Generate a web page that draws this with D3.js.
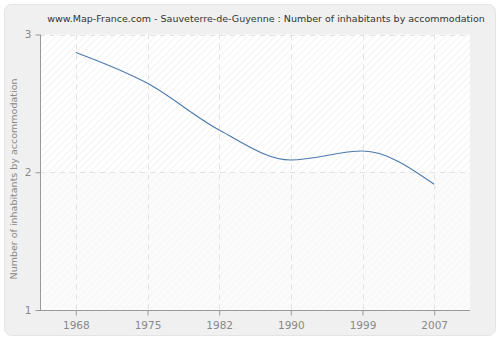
<!DOCTYPE html>
<html lang="en">
  <head>
    <meta charset="UTF-8" />
    <title>Sauveterre-de-Guyenne</title>
    <style>
      body { margin: 0; background: #fff; }
      text { font-family: "DejaVu Sans", Verdana, sans-serif; }
    </style>
  </head>
  <body>
    <svg width="500" height="340"></svg>
    <script src="https://cdn.jsdelivr.net/npm/d3@7/dist/d3.min.js"></script>
    <script>
      var years = ["1968", "1975", "1982", "1990", "1999", "2007"];
      var values = [2.87, 2.646, 2.307, 2.089, 2.154, 1.913];
      var yTicks = [1, 2, 3];

      var svg = d3.select("svg");
      var mLeft = 40, mRight = 470, mTop = 34.5, mBottom = 310;

      // hatch patterns
      var defs = svg.append("defs");
      function hatch(id, bg, line) {
        var p = defs.append("pattern")
          .attr("id", id)
          .attr("width", 5).attr("height", 5)
          .attr("patternUnits", "userSpaceOnUse")
          .attr("patternTransform", "rotate(45)");
        p.append("rect").attr("width", 5).attr("height", 5).attr("fill", bg);
        p.append("line").attr("x1", 0).attr("y1", 0).attr("x2", 0).attr("y2", 5)
          .attr("stroke", line).attr("stroke-width", 1.2);
      }
      hatch("hatchTop", "#ffffff", "#ececec");
      hatch("hatchBottom", "#fbfbfb", "#f3f3f3");

      // outer frame
      svg.append("rect")
        .attr("x", 0).attr("y", 0).attr("width", 500).attr("height", 340)
        .attr("fill", "#ffffff");
      svg.append("rect")
        .attr("x", 4.5).attr("y", 4.5).attr("width", 491).attr("height", 331)
        .attr("rx", 7)
        .attr("fill", "#f0f0f0")
        .attr("stroke", "#e4e4e4");

      var x = d3.scalePoint().domain(years).range([mLeft, mRight]).padding(0.5);
      var y = d3.scaleLinear().domain([1, 3]).range([mBottom, mTop]);

      svg.append("rect")
        .attr("x", mLeft).attr("y", mTop)
        .attr("width", mRight - mLeft).attr("height", y(2) - mTop)
        .attr("fill", "url(#hatchTop)");
      svg.append("rect")
        .attr("x", mLeft).attr("y", y(2))
        .attr("width", mRight - mLeft).attr("height", mBottom - y(2))
        .attr("fill", "url(#hatchBottom)");

      // grid
      svg.append("g").selectAll("line").data(years).enter().append("line")
        .attr("x1", function(d) { return Math.round(x(d)) + 0.5; })
        .attr("x2", function(d) { return Math.round(x(d)) + 0.5; })
        .attr("y1", mTop).attr("y2", mBottom)
        .attr("stroke", "#e2e2e2")
        .attr("stroke-dasharray", "5,5");
      svg.append("g").selectAll("line").data(yTicks.slice(1)).enter().append("line")
        .attr("x1", mLeft).attr("x2", mRight)
        .attr("y1", function(d) { return Math.round(y(d)) + 0.5; })
        .attr("y2", function(d) { return Math.round(y(d)) + 0.5; })
        .attr("stroke", "#e2e2e2")
        .attr("stroke-dasharray", "5,5");

      // axes
      var xAxis = svg.append("g")
        .attr("transform", "translate(0," + (mBottom + 0.5) + ")")
        .call(d3.axisBottom(x).tickSize(5).tickPadding(6));
      var yAxis = svg.append("g")
        .attr("transform", "translate(" + (mLeft + 0.5) + ",0)")
        .call(d3.axisLeft(y).tickValues(yTicks).tickFormat(d3.format("d")).tickSize(5).tickPadding(4));
      [xAxis, yAxis].forEach(function(a) {
        a.select(".domain").attr("stroke", "#999");
        a.selectAll(".tick line").attr("stroke", "#999");
        a.selectAll(".tick text")
          .attr("fill", "#888")
          .style("font-size", "10.5px")
          .style("font-family", "'DejaVu Sans', Verdana, sans-serif");
      });
      xAxis.select(".domain").attr("d", "M" + mLeft + ",0H" + mRight);
      yAxis.select(".domain").attr("d", "M0," + mTop + "V" + mBottom);

      // line
      var line = d3.line()
        .x(function(d, i) { return x(years[i]); })
        .y(function(d) { return y(d); })
        .curve(d3.curveMonotoneX);
      svg.append("path")
        .datum(values)
        .attr("d", line)
        .attr("fill", "none")
        .attr("stroke", "#4a78ad")
        .attr("stroke-width", 1.1);

      // titles
      svg.append("text")
        .attr("x", 266).attr("y", 22)
        .attr("text-anchor", "middle")
        .attr("fill", "#333")
        .style("font-size", "9.5px")
        .text("www.Map-France.com - Sauveterre-de-Guyenne : Number of inhabitants by accommodation");
      svg.append("text")
        .attr("transform", "translate(17,179) rotate(-90)")
        .attr("text-anchor", "middle")
        .attr("fill", "#888")
        .style("font-size", "9.5px")
        .text("Number of inhabitants by accommodation");
    </script>
  </body>
</html>
